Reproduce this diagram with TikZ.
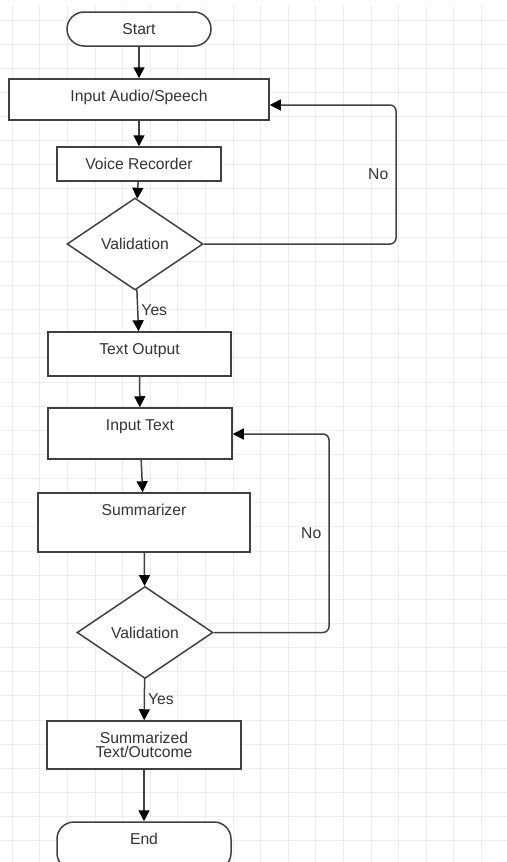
\documentclass[tikz,border=0pt]{standalone}
\usepackage{fontspec}
\setmainfont{Liberation Sans}
\usetikzlibrary{shapes.geometric,arrows.meta}

\begin{document}
\begin{tikzpicture}[x=0.5pt,y=-0.5pt,
    font=\fontsize{7.85}{9.4}\selectfont,
    rejilla/.style={black!7, line width=0.5pt},
    borde/.style={draw=black!75, line width=0.75pt, fill=white, text=black!80, inner sep=0pt},
    caja/.style={borde, text height=11.3pt},
    term/.style={caja, rounded corners=8.5pt},
    decision/.style={borde, diamond, minimum width=68pt, minimum height=46pt},
    flecha/.style={draw=black!75, line width=0.75pt, -{Triangle[length=5.5pt,width=5.5pt,color=black]}},
    etiq/.style={text=black!80, inner sep=1.5pt}]
    \useasboundingbox (0,0) rectangle (507,862);
    \clip (0,0) rectangle (507,862);
    % Cuadricula de fondo
    \foreach \i in {0,...,17}
        \draw[rejilla] ({12.3+27.6*\i},5) -- ({12.3+27.6*\i},862);
    \foreach \j in {0,...,34}
        \draw[rejilla] (0,{20+24.14*\j}) -- (507,{20+24.14*\j});
    % Bloques del diagrama
    \node[term, minimum width=72pt, text depth=5.7pt] (inicio) at (139,29) {Start};
    \node[caja, minimum width=130pt, text depth=9.2pt] (inaudio) at (139,99.5) {Input Audio/Speech};
    \node[caja, minimum width=82pt, text depth=5.7pt] (grabador) at (139,164) {Voice Recorder};
    \node[decision] (valid1) at (135,244) {Validation};
    \node[caja, minimum width=91.5pt, text depth=10.7pt] (salida) at (139.5,354) {Text Output};
    \node[caja, minimum width=92pt, text depth=14.2pt] (intexto) at (140,433.5) {Input Text};
    \node[caja, minimum width=106pt, text depth=18.2pt] (resumen) at (144,522.5) {Summarizer};
    \node[decision] (valid2) at (145,632.5) {Validation};
    \node[borde, minimum width=97pt, minimum height=24pt, align=center,
          font=\fontsize{7.85}{7}\selectfont] (resultado) at (144,745) {Summarized\\Text/Outcome};
    \node[term, minimum width=87pt, text depth=12.7pt] (fin) at (144,846) {End};
    % Flujo principal
    \draw[flecha] (inicio) -- (inaudio);
    \draw[flecha] (inaudio) -- (grabador);
    \draw[flecha] (grabador) -- (valid1);
    \draw[flecha] (valid1) -- node[etiq, right] {Yes} (salida);
    \draw[flecha] (salida) -- (intexto);
    \draw[flecha] (intexto) -- (resumen);
    \draw[flecha] (resumen) -- (valid2);
    \draw[flecha] (valid2) -- node[etiq, right] {Yes} (resultado);
    \draw[flecha] (resultado) -- (fin);
    % Ramas de retorno (No)
    \coordinate (vuelta1) at (396,105);
    \draw[flecha, rounded corners=3pt] (valid1.east) -| node[etiq, left, pos=0.75, xshift=-2pt] {No} (vuelta1) -- (vuelta1 -| inaudio.east);
    \coordinate (vuelta2) at (329,434);
    \draw[flecha, rounded corners=3pt] (valid2.east) -| node[etiq, left, pos=0.75, xshift=-2pt] {No} (vuelta2) -- (vuelta2 -| intexto.east);
\end{tikzpicture}
\end{document}
